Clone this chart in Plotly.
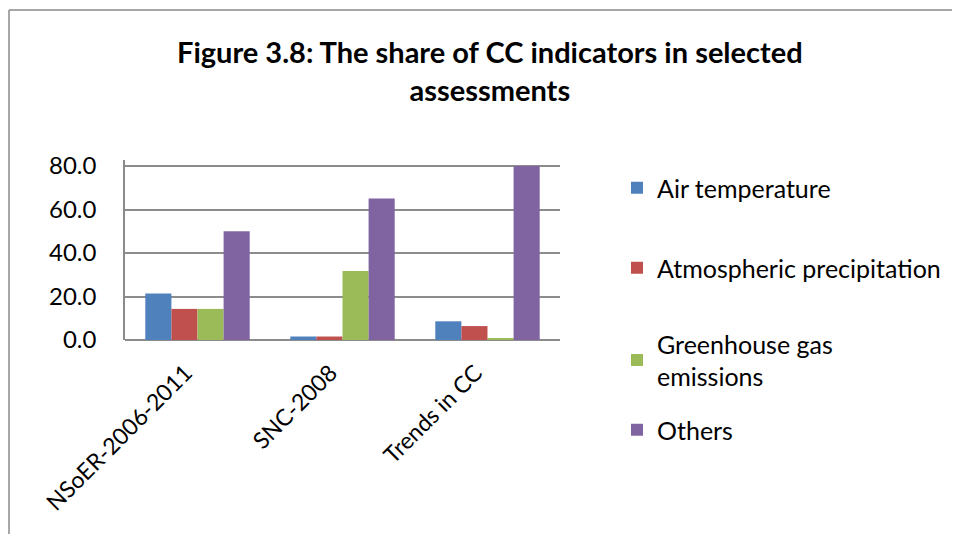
import plotly.graph_objects as go

categories = ["NSoER-2006-2011", "SNC-2008", "Trends in CC"]
series_names = ["Air temperature", "Atmospheric precipitation", "Greenhouse gas<br>emissions", "Others"]
air_temperature = [21.4, 1.6, 8.6]
atmospheric_precipitation = [14.3, 1.6, 6.4]
greenhouse_gas = [14.3, 31.7, 0.5]
others = [50.0, 65.1, 80.0]
tick_values = [0, 20, 40, 60, 80]

series_values = [air_temperature, atmospheric_precipitation, greenhouse_gas, others]
colors = ["#4F81BD", "#C0504D", "#9BBB59", "#8064A2"]
legend_ids = ["legend", "legend2", "legend3", "legend4"]

OFF = 8  # page body margin
W, H = 960, 534
L, R, T, B = 125 - OFF, 400 + OFF, 160 - OFF, 194 + OFF
pw, ph = W - L - R, H - T - B

def px_x(x):
    return (x - OFF - L) / pw

def px_y(y):
    return (H - B - (y - OFF)) / ph

fig = go.Figure()
for name, vals, col, lg in zip(series_names, series_values, colors, legend_ids):
    fig.add_trace(go.Bar(
        x=categories, y=vals, name=name, legend=lg,
        marker=dict(color=col, line=dict(width=0)),
    ))

font_main = "Lato, Calibri, Carlito, sans-serif"
legend_y_px = [188, 268, 360, 430]
layout_legends = {}
for lg, ypx in zip(legend_ids, legend_y_px):
    layout_legends[lg] = dict(
        x=px_x(617), y=px_y(ypx), xanchor="left", yanchor="middle",
        font=dict(family=font_main, size=25, color="#000"),
        bgcolor="rgba(0,0,0,0)", itemclick=False,
    )

fig.update_layout(
    width=W, height=H,
    margin=dict(l=L, r=R, t=T, b=B, autoexpand=False),
    paper_bgcolor="white", plot_bgcolor="white",
    barmode="group", bargap=0.28, bargroupgap=0,
    showlegend=True,
    **layout_legends,
    xaxis=dict(
        tickangle=-45, tickfont=dict(family=font_main, size=23, color="#000"),
        showgrid=False, showline=False, ticks="",
        ticklabelstandoff=14, ticklabelshift=-12,
    ),
    yaxis=dict(
        range=[0, 82.8], tickvals=tick_values, tickformat=".1f",
        tickfont=dict(family=font_main, size=24, color="#000"),
        showgrid=True, gridcolor="#8c8c8c", gridwidth=1.5,
        zeroline=True, zerolinecolor="#8c8c8c", zerolinewidth=1.5,
        showline=True, linecolor="#8c8c8c", linewidth=1.5,
        ticks="", ticklabelstandoff=22,
    ),
    annotations=[dict(
        text="<b>Figure 3.8: The share of CC indicators in selected<br>assessments</b>",
        xref="paper", yref="paper", x=px_x(490), y=px_y(70),
        xanchor="center", yanchor="middle", showarrow=False,
        font=dict(family=font_main, size=29, color="#000"),
    )],
    shapes=[
        dict(type="line", xref="paper", yref="paper",
             x0=px_x(9), x1=px_x(980), y0=px_y(10), y1=px_y(10),
             line=dict(color="#8a8a8a", width=1.5)),
        dict(type="line", xref="paper", yref="paper",
             x0=px_x(9), x1=px_x(9), y0=px_y(10), y1=px_y(560),
             line=dict(color="#8a8a8a", width=1.5)),
    ],
)

fig.write_html("out.html")
